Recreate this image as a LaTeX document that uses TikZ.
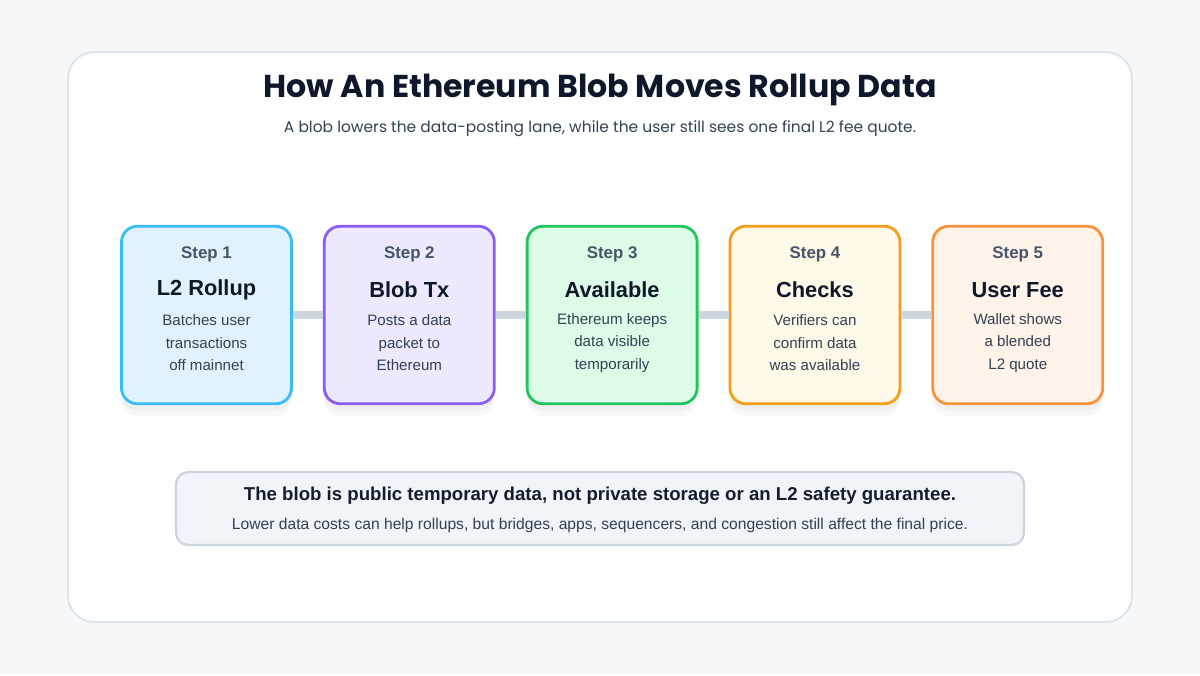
\documentclass[tikz,border=0pt]{standalone}
\usepackage{fontspec}
\setmainfont{Liberation Sans}
\newfontfamily\headfont{Poppins}
\usepackage{tikz}
\usetikzlibrary{positioning}
\usepackage{xcolor}

\definecolor{pagebg}{HTML}{F7F8FA}
\definecolor{cardline}{HTML}{DCE3EC}
\definecolor{inkdark}{HTML}{0F172A}
\definecolor{inkmid}{HTML}{334155}
\definecolor{inksoft}{HTML}{475569}
\definecolor{barcol}{HTML}{CDD5DF}
\definecolor{skyline}{HTML}{38BDF8}\definecolor{skyfill}{HTML}{E0F2FE}
\definecolor{violine}{HTML}{8B5CF6}\definecolor{viofill}{HTML}{EDE9FE}
\definecolor{grnline}{HTML}{22C55E}\definecolor{grnfill}{HTML}{DCFCE7}
\definecolor{ambline}{HTML}{F59E1B}\definecolor{ambfill}{HTML}{FEF9E9}
\definecolor{orgline}{HTML}{FB923C}\definecolor{orgfill}{HTML}{FFF3EA}
\definecolor{notefill}{HTML}{F1F4F8}
\definecolor{noteline}{HTML}{CBD3DE}

\begin{document}
\begin{tikzpicture}[
    node distance=0.6cm,
    stepbox/.style={rectangle, draw, line width=1.6pt, rounded corners=9pt,
        minimum width=3.4cm, minimum height=3.55cm,
        preaction={fill=black, fill opacity=0.025, draw=none, transform canvas={yshift=-7pt}},
        preaction={fill=black, fill opacity=0.035, draw=none, transform canvas={yshift=-4pt}}},
    steptag/.style={font=\bfseries\fontsize{9.6}{11}\selectfont, text=inksoft},
    steptitle/.style={font=\bfseries\fontsize{12.4}{14}\selectfont, text=inkdark},
    stepdesc/.style={font=\fontsize{8.6}{12.8}\selectfont, text=inkmid, align=center},
    bar/.style={barcol, line width=4.5pt}
]
    % canvas and card
    \useasboundingbox[fill=pagebg] (0,0) rectangle (24,13.5);
    \node[draw=cardline, line width=1pt, fill=white, rounded corners=15pt,
        minimum width=21.28cm, minimum height=11.4cm] (card) at (12,6.76) {};

    % heading
    \node[font=\headfont\bfseries\fontsize{18}{21}\selectfont, text=inkdark] (title) at (12,11.7)
        {How An Ethereum Blob Moves Rollup Data};
    \node[font=\headfont\fontsize{8.8}{11}\selectfont, text=inkmid] (subtitle) at (12,10.92)
        {A blob lowers the data-posting lane, while the user still sees one final L2 fee quote.};

    % step boxes
    \node[stepbox, draw=skyline, fill=skyfill] (rollup) at (4.13,7.2) {};
    \node[stepbox, draw=violine, fill=viofill, right=of rollup] (blobtx) {};
    \node[stepbox, draw=grnline, fill=grnfill, right=of blobtx] (avail) {};
    \node[stepbox, draw=ambline, fill=ambfill, right=of avail] (checks) {};
    \node[stepbox, draw=orgline, fill=orgfill, right=of checks] (userfee) {};

    % connecting bars
    \draw[bar] (rollup.east) -- (blobtx.west);
    \draw[bar] (blobtx.east) -- (avail.west);
    \draw[bar] (avail.east) -- (checks.west);
    \draw[bar] (checks.east) -- (userfee.west);

    % box texts
    \foreach \b/\n/\t/\d in {rollup/1/L2 Rollup/{Batches user\\transactions\\off mainnet},
                             blobtx/2/Blob Tx/{Posts a data\\packet to\\Ethereum},
                             avail/3/Available/{Ethereum keeps\\data visible\\temporarily},
                             checks/4/Checks/{Verifiers can\\confirm data\\was available},
                             userfee/5/User Fee/{Wallet shows\\a blended\\L2 quote}} {
        \node[steptag] (\b-tag) at ([yshift=1.22cm]\b.center) {Step \n};
        \node[steptitle] (\b-title) at ([yshift=0.5cm]\b.center) {\t};
        \node[stepdesc] (\b-desc) at ([yshift=-0.56cm]\b.center) {\d};
    }

    % note box
    \node[draw=noteline, line width=1.2pt, fill=notefill, rounded corners=7pt,
        minimum width=16.96cm, minimum height=1.46cm] (note) at (12,3.33) {};
    \node[font=\bfseries\fontsize{10.6}{12}\selectfont, text=inkdark!85!inkmid] (notehead) at (12,3.58)
        {The blob is public temporary data, not private storage or an L2 safety guarantee.};
    \node[font=\fontsize{8.9}{10}\selectfont, text=inkmid] (notetext) at (12,3.0)
        {Lower data costs can help rollups, but bridges, apps, sequencers, and congestion still affect the final price.};
\end{tikzpicture}
\end{document}
